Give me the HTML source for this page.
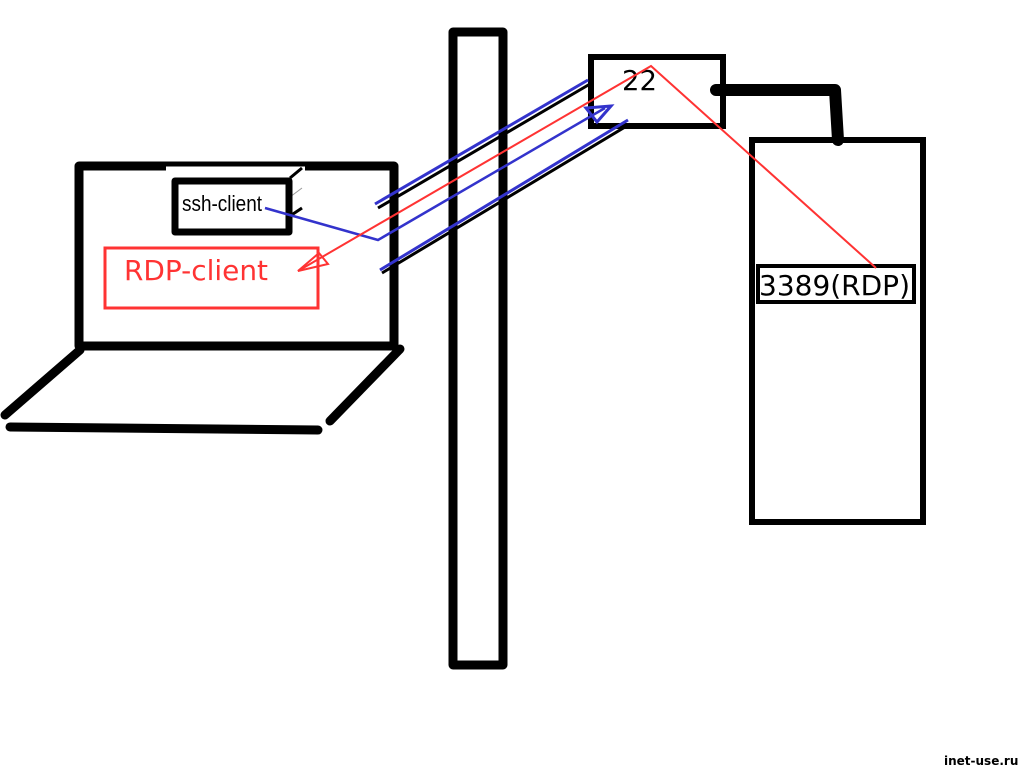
<!DOCTYPE html>
<html><head><meta charset="utf-8"><style>
html,body{margin:0;padding:0;background:#fff;}
svg{display:block;}
text{font-family:"DejaVu Sans","Liberation Sans",sans-serif;}
</style></head><body>
<svg width="1024" height="768" viewBox="0 0 1024 768" xmlns="http://www.w3.org/2000/svg">
<!-- laptop -->
<rect x="79" y="166" width="315" height="180" fill="none" stroke="#000" stroke-width="9" stroke-linejoin="round"/>
<rect x="166" y="166.5" width="139" height="5" fill="#fff"/>
<line x1="290" y1="178" x2="302" y2="168" stroke="#000" stroke-width="3"/>
<line x1="290" y1="197" x2="302" y2="188" stroke="#999" stroke-width="1"/>
<line x1="290" y1="216" x2="302" y2="208" stroke="#000" stroke-width="3"/>
<line x1="80" y1="350" x2="5" y2="415" stroke="#000" stroke-width="9" stroke-linecap="round"/>
<line x1="10" y1="427" x2="318" y2="430" stroke="#000" stroke-width="9" stroke-linecap="round"/>
<line x1="400" y1="349" x2="330" y2="421" stroke="#000" stroke-width="9" stroke-linecap="round"/>
<rect x="175" y="181" width="114" height="51" fill="#fff" stroke="#000" stroke-width="7" stroke-linejoin="round"/>
<text x="182" y="211" font-size="22" fill="#000" textLength="80" lengthAdjust="spacingAndGlyphs" style="font-family:'Liberation Sans',sans-serif">ssh-client</text>
<rect x="105" y="248" width="213" height="60" fill="none" stroke="#f33" stroke-width="3"/>
<text x="124" y="280" font-size="28" fill="#f33" textLength="144" lengthAdjust="spacingAndGlyphs">RDP-client</text>
<!-- pole -->
<rect x="453" y="32" width="50" height="633" fill="none" stroke="#000" stroke-width="9" stroke-linejoin="round"/>
<!-- box 22 -->
<rect x="591" y="57" width="132" height="69" fill="none" stroke="#000" stroke-width="6"/>
<text x="622" y="90" font-size="28" fill="#000" textLength="35" lengthAdjust="spacingAndGlyphs">22</text>
<polyline points="716,90 835,90 838,140" fill="none" stroke="#000" stroke-width="12" stroke-linecap="round" stroke-linejoin="round"/>
<!-- server -->
<rect x="752" y="140" width="171" height="382" fill="none" stroke="#000" stroke-width="6"/>
<rect x="758" y="266" width="156" height="36" fill="#fff" stroke="#000" stroke-width="4"/>
<text x="759" y="295" font-size="28" fill="#000" textLength="151" lengthAdjust="spacingAndGlyphs">3389(RDP)</text>
<!-- tunnel lines -->
<line x1="378" y1="208" x2="590" y2="84" stroke="#000" stroke-width="3"/>
<line x1="375" y1="204" x2="588" y2="80" stroke="#33c" stroke-width="3"/>
<line x1="382" y1="273" x2="630" y2="124" stroke="#000" stroke-width="3"/>
<line x1="380" y1="270" x2="628" y2="120" stroke="#33c" stroke-width="3"/>
<polyline points="265,208 378,240 605,108" fill="none" stroke="#33c" stroke-width="2.5"/>
<polygon points="611,106 586,108 597,122" fill="none" stroke="#33c" stroke-width="3"/>
<polyline points="298,271 651,66 876,268" fill="none" stroke="#f33" stroke-width="2"/>
<polygon points="298,271 328,264 319,253" fill="none" stroke="#f33" stroke-width="2"/>
<text x="944" y="765" font-size="12" font-weight="bold" fill="#000">inet-use.ru</text>
</svg>
</body></html>
